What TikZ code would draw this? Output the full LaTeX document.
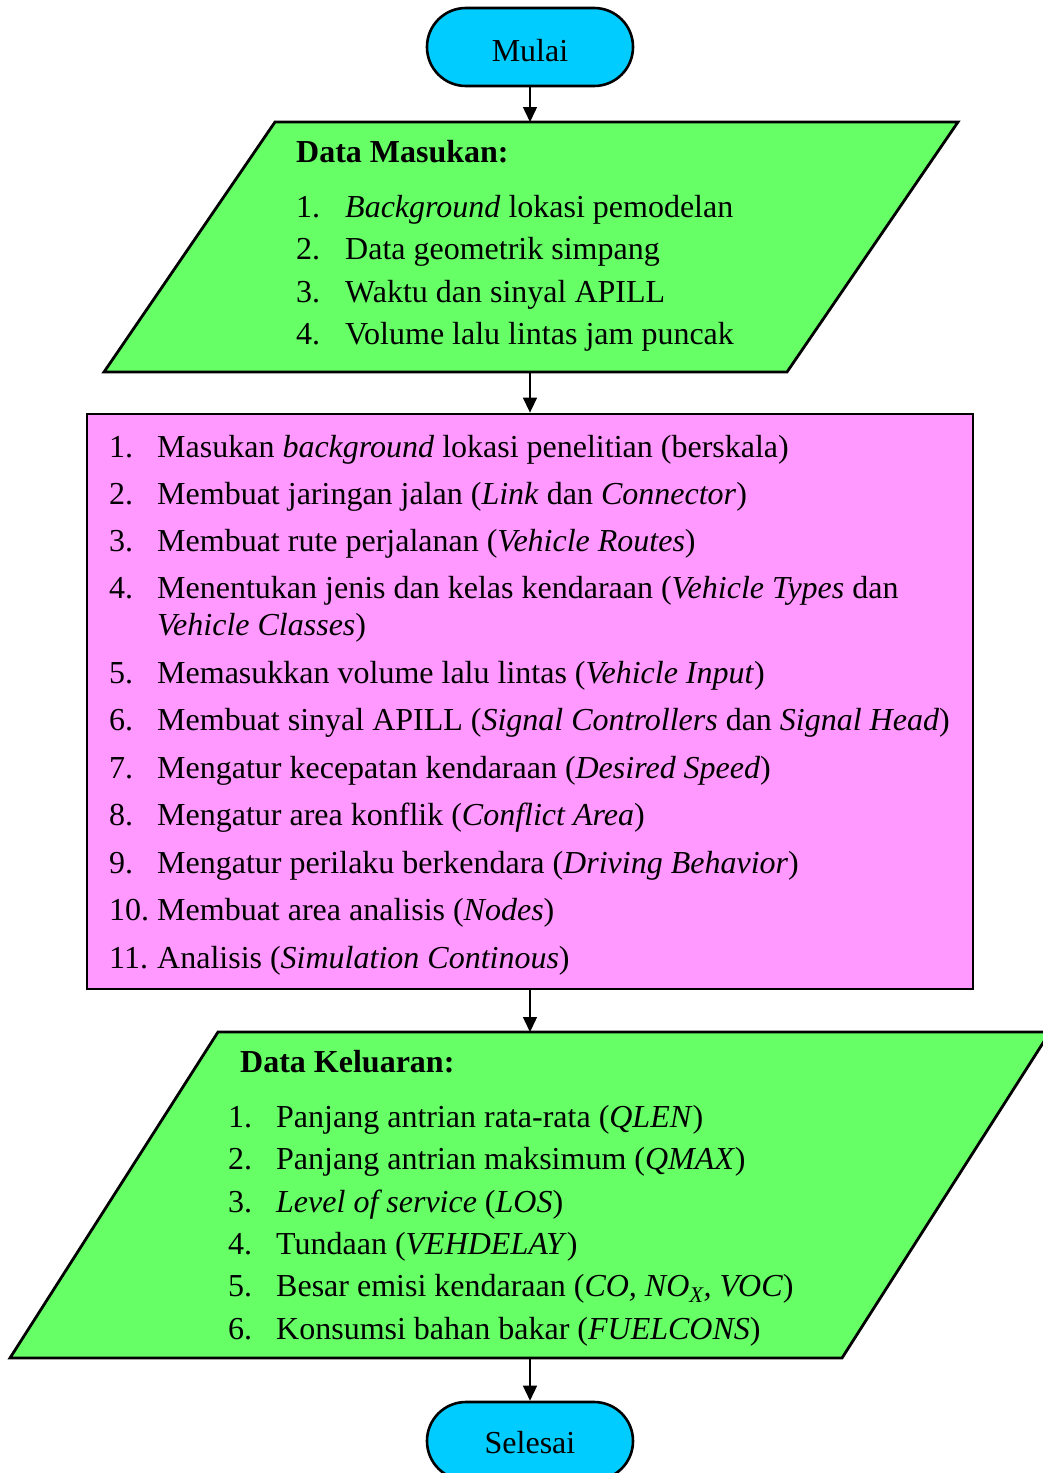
\documentclass[tikz,border=0pt]{standalone}
\usepackage{fontspec}
\setmainfont{Liberation Serif}
\usetikzlibrary{arrows.meta}
\definecolor{termcyan}{HTML}{00CCFF}
\definecolor{iogreen}{HTML}{66FF66}
\definecolor{procpink}{HTML}{FF99FF}

\begin{document}
\begin{tikzpicture}[x=1pt,y=-1pt,
  terminal/.style={draw=black,line width=2.6pt,fill=termcyan,rounded corners=38.9pt,
    minimum width=206pt,minimum height=78pt,inner sep=0pt,text depth=0pt,
    font=\fontsize{32}{37}\selectfont},
  iobox/.style={draw=black,line width=2.8pt,fill=iogreen,line join=miter},
  procbox/.style={draw=black,line width=2.8pt,fill=procpink,inner sep=0pt,
    minimum width=886pt,minimum height=575pt},
  txt/.style={anchor=base west,inner sep=0pt,font=\fontsize{32}{37}\selectfont},
  flow/.style={-{Triangle[length=15pt,width=14pt]},line width=1.4pt}
]
\useasboundingbox (0,0) rectangle (1043,1473);
\clip (0,0) rectangle (1043,1473);

% start terminator
\node[terminal,text height=28pt] (mulai) at (530,47) {Mulai};

% input data
\path[iobox] (104,372) -- (275,122) -- (958,122) -- (787,372) -- cycle;
\coordinate (inTop) at (530,122);
\coordinate (inBot) at (530,372);
\node[txt] (inHead) at (296,162) {\textbf{Data Masukan:}};
\node[txt] (in1n) at (296,217) {1.};
\node[txt] (in1) at (345,217) {\textit{Background} lokasi pemodelan};
\node[txt] (in2n) at (296,259) {2.};
\node[txt] (in2) at (345,259) {Data geometrik simpang};
\node[txt] (in3n) at (296,302) {3.};
\node[txt] (in3) at (345,302) {Waktu dan sinyal APILL};
\node[txt] (in4n) at (296,344) {4.};
\node[txt] (in4) at (345,344) {Volume lalu lintas jam puncak};

% modelling steps
\node[procbox] (proc) at (530,701.5) {};
\node[txt] (p1n) at (109,457) {1.};
\node[txt] (p1) at (157,457) {Masukan \textit{background} lokasi penelitian (berskala)};
\node[txt] (p2n) at (109,504) {2.};
\node[txt] (p2) at (157,504) {Membuat jaringan jalan (\textit{Link} dan \textit{Connector})};
\node[txt] (p3n) at (109,551) {3.};
\node[txt] (p3) at (157,551) {Membuat rute perjalanan (\textit{Vehicle Routes})};
\node[txt] (p4n) at (109,598) {4.};
\node[txt] (p4) at (157,598) {Menentukan jenis dan kelas kendaraan (\textit{Vehicle Types} dan};
\node[txt] (p4b) at (157,635) {\textit{Vehicle Classes})};
\node[txt] (p5n) at (109,683) {5.};
\node[txt] (p5) at (157,683) {Memasukkan volume lalu lintas (\textit{Vehicle Input})};
\node[txt] (p6n) at (109,730) {6.};
\node[txt] (p6) at (157,730) {Membuat sinyal APILL (\textit{Signal Controllers} dan \textit{Signal Head})};
\node[txt] (p7n) at (109,778) {7.};
\node[txt] (p7) at (157,778) {Mengatur kecepatan kendaraan (\textit{Desired Speed})};
\node[txt] (p8n) at (109,825) {8.};
\node[txt] (p8) at (157,825) {Mengatur area konflik (\textit{Conflict Area})};
\node[txt] (p9n) at (109,873) {9.};
\node[txt] (p9) at (157,873) {Mengatur perilaku berkendara (\textit{Driving Behavior})};
\node[txt] (p10n) at (109,920) {10.};
\node[txt] (p10) at (157,920) {Membuat area analisis (\textit{Nodes})};
\node[txt] (p11n) at (109,968) {11.};
\node[txt] (p11) at (157,968) {Analisis (\textit{Simulation Continous})};

% output data
\path[iobox] (10,1358) -- (218,1032) -- (1050,1032) -- (842,1358) -- cycle;
\coordinate (outTop) at (530,1032);
\coordinate (outBot) at (530,1358);
\node[txt] (outHead) at (240,1072) {\textbf{Data Keluaran:}};
\node[txt] (o1n) at (228,1127) {1.};
\node[txt] (o1) at (276,1127) {Panjang antrian rata-rata (\textit{QLEN})};
\node[txt] (o2n) at (228,1169) {2.};
\node[txt] (o2) at (276,1169) {Panjang antrian maksimum (\textit{QMAX})};
\node[txt] (o3n) at (228,1212) {3.};
\node[txt] (o3) at (276,1212) {\textit{Level of service} (\textit{LOS})};
\node[txt] (o4n) at (228,1254) {4.};
\node[txt] (o4) at (276,1254) {Tundaan (\textit{VEHDELAY})};
\node[txt] (o5n) at (228,1296) {5.};
\node[txt] (o5) at (276,1296) {Besar emisi kendaraan (\textit{CO, NO\textsubscript{X}, VOC})};
\node[txt] (o6n) at (228,1339) {6.};
\node[txt] (o6) at (276,1339) {Konsumsi bahan bakar (\textit{FUELCONS})};

% end terminator
\node[terminal,text height=25pt] (selesai) at (530,1441) {Selesai};

% connectors
\draw[flow] (mulai.south) -- (inTop);
\draw[flow] (inBot) -- (proc.north);
\draw[flow] (proc.south) -- (outTop);
\draw[flow] (outBot) -- (selesai.north);
\end{tikzpicture}
\end{document}
